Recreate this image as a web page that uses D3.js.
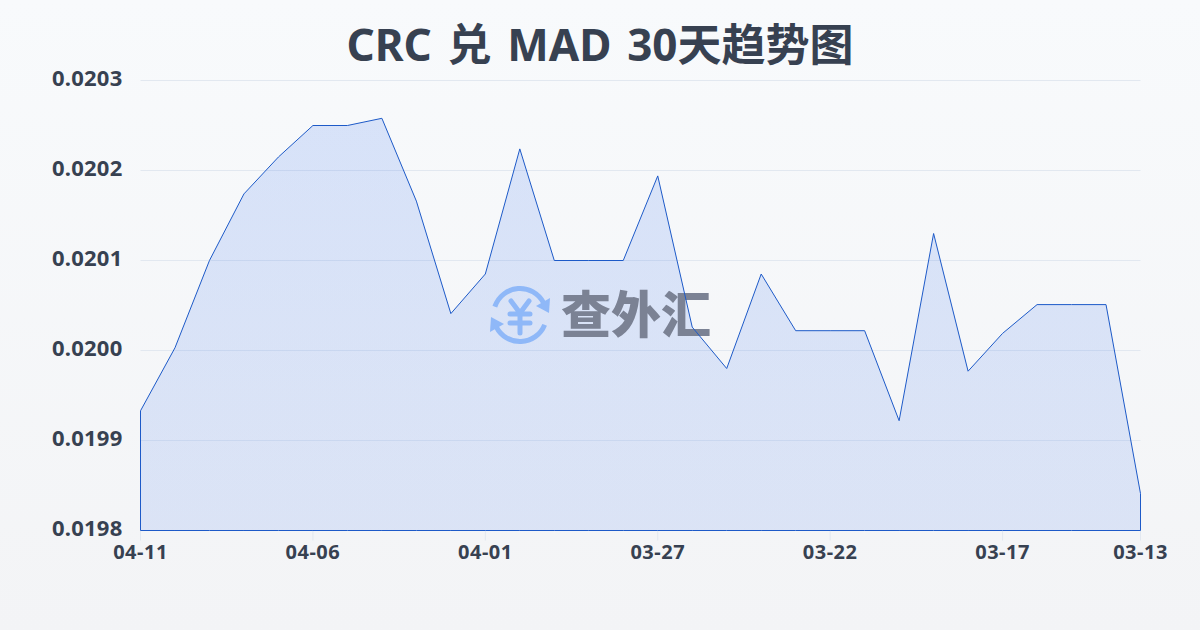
<!DOCTYPE html>
<html><head><meta charset="utf-8">
<script src="https://cdn.jsdelivr.net/npm/d3@7"></script>
<style>html,body{margin:0;padding:0;width:1200px;height:630px;overflow:hidden}svg{display:block}</style>
</head><body><svg id="c" width="1200" height="630"></svg>
<script>
const titleText = "CRC 兑 MAD 30天趋势图";
const watermarkText = "查外汇";
const dates = ["04-11","04-10","04-09","04-08","04-07","04-06","04-05","04-04","04-03","04-02","04-01","03-31","03-30","03-29","03-28","03-27","03-26","03-25","03-24","03-23","03-22","03-21","03-20","03-19","03-18","03-17","03-16","03-15","03-14","03-13"];
const rates = [0.019933,0.020003,0.0201,0.020174,0.020215,0.02025,0.02025,0.020258,0.020166,0.020041,0.020085,0.020224,0.0201,0.0201,0.0201,0.020194,0.020026,0.01998,0.020085,0.020022,0.020022,0.020022,0.019922,0.02013,0.019977,0.020019,0.020051,0.020051,0.020051,0.019841];
const yTicks = [0.0198,0.0199,0.02,0.0201,0.0202,0.0203];
const xTicks = ["04-11","04-06","04-01","03-27","03-22","03-17","03-13"];

const svg = d3.select("#c");
const defs = svg.append("defs");
const bg = defs.append("linearGradient").attr("id","bg").attr("x1",0).attr("y1",0).attr("x2",0).attr("y2",1);
bg.append("stop").attr("offset",0).attr("stop-color","#f8fafc");
bg.append("stop").attr("offset",1).attr("stop-color","#f3f4f6");
const ag = defs.append("linearGradient").attr("id","ag").attr("x1",0).attr("y1",0).attr("x2",0).attr("y2",1);
ag.append("stop").attr("offset",0).attr("stop-color","#2563eb").attr("stop-opacity",0.15);
ag.append("stop").attr("offset",1).attr("stop-color","#2563eb").attr("stop-opacity",0.12);
svg.append("rect").attr("width",1200).attr("height",630).attr("fill","url(#bg)");

const font = "'Noto Sans','Noto Sans CJK SC',sans-serif";
const x = d3.scalePoint().domain(dates).range([140.5,1140.5]);
const y = d3.scaleLinear().domain([0.0198,0.0203]).range([530.5,80.5]);

const gy = svg.append("g").attr("transform","translate(140.5,0)")
  .call(d3.axisLeft(y).tickValues(yTicks).tickSize(-1000).tickPadding(18).offset(0).tickFormat(d3.format(".4f")));
gy.select(".domain").remove();
gy.selectAll(".tick line").attr("stroke","#e2e8f0").attr("stroke-width",1);
gy.selectAll("text").attr("font-family",font).attr("font-size",22).attr("font-weight",700).attr("fill","#374151").attr("letter-spacing","0.25px").attr("dy","0.24em");

const gx = svg.append("g").attr("transform","translate(0,530.5)")
  .call(d3.axisBottom(x).tickValues(xTicks).tickSize(10).tickPadding(4).offset(0));
gx.select(".domain").remove();
gx.selectAll(".tick line").attr("stroke","#e2e8f0");
gx.selectAll("text").attr("font-family",font).attr("font-size",20).attr("font-weight",700).attr("fill","#374151").attr("letter-spacing","0.5px");

const area = d3.area().x((d,i)=>x(dates[i])).y0(y(0.0198)).y1(d=>y(d));
svg.append("path").datum(rates).attr("d",d=>area(d)+"Z").attr("fill","url(#ag)");

// watermark sits between the fill and the outline
const wm = svg.append("g");
const logo = wm.append("g").attr("transform","translate(520,315)").attr("fill","none").attr("stroke","#8fb8f8").attr("stroke-linecap","round");
logo.append("path").attr("d",d3.arc()({innerRadius:26.5,outerRadius:26.5,startAngle:-1.25,endAngle:1.1})).attr("stroke-width",5);
logo.append("path").attr("d",d3.arc()({innerRadius:26.5,outerRadius:26.5,startAngle:1.95,endAngle:4.25})).attr("stroke-width",5);
logo.append("path").attr("d","M29,-2 L30,-17 L16,-9 Z").attr("fill","#8fb8f8").attr("stroke","none");
logo.append("path").attr("d","M-29,2 L-30,17 L-16,9 Z").attr("fill","#8fb8f8").attr("stroke","none");
logo.append("path").attr("d","M-9,-14 L0,-2 L9,-14 M-10,-1 H10 M-10,8 H10 M0,-2 V18").attr("stroke-width",5);
wm.append("text").attr("x",636).attr("y",333).attr("text-anchor","middle")
  .attr("font-family","'Noto Sans CJK SC',sans-serif").attr("font-size",50).attr("font-weight",900).attr("fill","#7b8294").text(watermarkText);

svg.append("path").datum(rates).attr("d",d=>area(d)+"Z").attr("fill","none").attr("stroke","#1d5ac8").attr("stroke-width",1);

svg.append("text").attr("x",600).attr("y",61).attr("text-anchor","middle").attr("word-spacing","4.3px")
  .attr("font-family",font).attr("font-size",44).attr("font-weight",700).attr("fill","#374151").text(titleText);
</script></body></html>
